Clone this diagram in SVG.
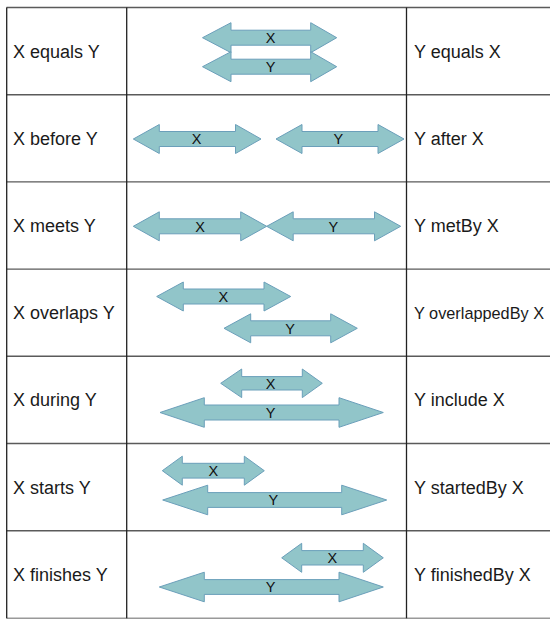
<svg xmlns="http://www.w3.org/2000/svg" width="550" height="619" viewBox="0 0 550 619">
<style>
.bg{fill:#ffffff}
.h{stroke:#5a5a5a;stroke-width:1.4;fill:none}
.v{stroke:#222222;stroke-width:1.3;fill:none}
.arr{fill:#91c5c9;stroke:#6b9fba;stroke-width:1}
.lbl{font-family:"Liberation Sans",Arial,sans-serif;font-size:14.5px;fill:#111;text-anchor:middle}
.cell{font-family:"Liberation Sans",Arial,sans-serif;font-size:18px;fill:#1a1a1a}
.small{font-size:16.3px}
</style>
<rect class="bg" x="0" y="0" width="550" height="619"/>
<g id="grid">
<line class="h" x1="6.5" y1="7.5" x2="550" y2="7.5"/>
<line class="h" x1="6.5" y1="94.7" x2="550" y2="94.7"/>
<line class="h" x1="6.5" y1="181.9" x2="550" y2="181.9"/>
<line class="h" x1="6.5" y1="269.1" x2="550" y2="269.1"/>
<line class="h" x1="6.5" y1="356.3" x2="550" y2="356.3"/>
<line class="h" x1="6.5" y1="443.5" x2="550" y2="443.5"/>
<line class="h" x1="6.5" y1="530.7" x2="550" y2="530.7"/>
<line class="h" x1="6.5" y1="618.2" x2="550" y2="618.2" style="stroke:#999"/>
<line class="v" x1="6.7" y1="7.5" x2="6.7" y2="618.2"/>
<line class="v" x1="126.7" y1="7.5" x2="126.7" y2="618.2"/>
<line class="v" x1="406.5" y1="7.5" x2="406.5" y2="618.2"/>
</g>
<g id="row-equals">
<text class="cell" x="13" y="57.5">X equals Y</text>
<text class="cell" x="414" y="57.5">Y equals X</text>
<g id="equals-x"><path class="arr" d="M202.5,37.7 L231,22.7 L231,30.2 L310.7,30.2 L310.7,22.7 L336.7,37.7 L310.7,52.7 L310.7,45.2 L231,45.2 L231,52.7 Z"/><text class="lbl" x="270.5" y="43">X</text></g>
<g id="equals-y"><path class="arr" d="M202.5,66.7 L231,51.7 L231,59.2 L310.7,59.2 L310.7,51.7 L336.7,66.7 L310.7,81.7 L310.7,74.2 L231,74.2 L231,81.7 Z"/><text class="lbl" x="270.5" y="72">Y</text></g>
</g>
<g id="row-before">
<text class="cell" x="13" y="144.7">X before Y</text>
<text class="cell" x="414" y="144.7">Y after X</text>
<g id="before-x"><path class="arr" d="M133.3,139 L159.3,124.5 L159.3,131.5 L235.5,131.5 L235.5,124.5 L261,139 L235.5,153.5 L235.5,146.5 L159.3,146.5 L159.3,153.5 Z"/><text class="lbl" x="196.7" y="144.3">X</text></g>
<g id="before-y"><path class="arr" d="M276,139 L302,124.5 L302,131.5 L378,131.5 L378,124.5 L404,139 L378,153.5 L378,146.5 L302,146.5 L302,153.5 Z"/><text class="lbl" x="338.3" y="144.3">Y</text></g>
</g>
<g id="row-meets">
<text class="cell" x="13" y="231.9">X meets Y</text>
<text class="cell" x="414" y="231.9">Y metBy X</text>
<g id="meets-x"><path class="arr" d="M133.3,226.3 L159.3,211.8 L159.3,218.8 L240.7,218.8 L240.7,211.8 L266.7,226.3 L240.7,240.8 L240.7,233.8 L159.3,233.8 L159.3,240.8 Z"/><text class="lbl" x="200" y="231.6">X</text></g>
<g id="meets-y"><path class="arr" d="M266.7,226.3 L293.2,211.8 L293.2,218.8 L374.5,218.8 L374.5,211.8 L400.7,226.3 L374.5,240.8 L374.5,233.8 L293.2,233.8 L293.2,240.8 Z"/><text class="lbl" x="333.3" y="231.6">Y</text></g>
</g>
<g id="row-overlaps">
<text class="cell" x="13" y="319.1">X overlaps Y</text>
<text class="cell small" x="414" y="318.5">Y overlappedBy X</text>
<g id="overlaps-x"><path class="arr" d="M156.7,296.5 L183.3,282 L183.3,289 L264,289 L264,282 L290.7,296.5 L264,311 L264,304 L183.3,304 L183.3,311 Z"/><text class="lbl" x="223.3" y="301.8">X</text></g>
<g id="overlaps-y"><path class="arr" d="M224,328.3 L250.7,313.8 L250.7,320.8 L330.7,320.8 L330.7,313.8 L357.3,328.3 L330.7,342.8 L330.7,335.8 L250.7,335.8 L250.7,342.8 Z"/><text class="lbl" x="290" y="333.6">Y</text></g>
</g>
<g id="row-during">
<text class="cell" x="13" y="406.3">X during Y</text>
<text class="cell" x="414" y="406.3">Y include X</text>
<g id="during-x"><path class="arr" d="M220.7,383.3 L241.7,369 L241.7,376.6 L302.3,376.6 L302.3,369 L322.3,383.3 L302.3,397.6 L302.3,390 L241.7,390 L241.7,397.6 Z"/><text class="lbl" x="270.7" y="388.6">X</text></g>
<g id="during-y"><path class="arr" d="M160,412.5 L204.3,397.7 L204.3,405 L339,405 L339,397.7 L383.3,412.5 L339,427.3 L339,420 L204.3,420 L204.3,427.3 Z"/><text class="lbl" x="270.7" y="417.8">Y</text></g>
</g>
<g id="row-starts">
<text class="cell" x="13" y="493.5">X starts Y</text>
<text class="cell" x="414" y="493.5">Y startedBy X</text>
<g id="starts-x"><path class="arr" d="M162.3,470.7 L182.3,456.2 L182.3,463.3 L244.3,463.3 L244.3,456.2 L264.3,470.7 L244.3,485.2 L244.3,478.1 L182.3,478.1 L182.3,485.2 Z"/><text class="lbl" x="213.3" y="476">X</text></g>
<g id="starts-y"><path class="arr" d="M162.7,500 L207.7,485.2 L207.7,492.6 L341.7,492.6 L341.7,485.2 L386.7,500 L341.7,514.8 L341.7,507.4 L207.7,507.4 L207.7,514.8 Z"/><text class="lbl" x="273.3" y="505.3">Y</text></g>
</g>
<g id="row-finishes">
<text class="cell" x="13" y="580.7">X finishes Y</text>
<text class="cell" x="414" y="580.7">Y finishedBy X</text>
<g id="finishes-x"><path class="arr" d="M281.7,557.8 L301.7,543.3 L301.7,550.6 L363.3,550.6 L363.3,543.3 L383.3,557.8 L363.3,572.3 L363.3,565 L301.7,565 L301.7,572.3 Z"/><text class="lbl" x="332.3" y="563.1">X</text></g>
<g id="finishes-y"><path class="arr" d="M159.3,587 L204.3,572.2 L204.3,579.6 L339,579.6 L339,572.2 L383.3,587 L339,601.8 L339,594.4 L204.3,594.4 L204.3,601.8 Z"/><text class="lbl" x="270.7" y="592.3">Y</text></g>
</g>
</svg>
